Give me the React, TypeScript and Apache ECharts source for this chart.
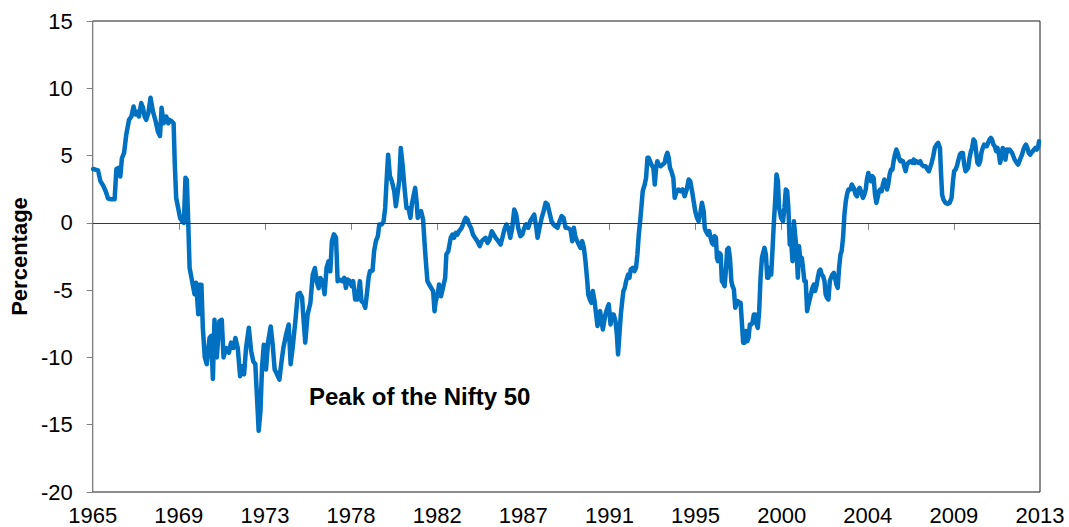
import React, { useEffect, useRef } from "react";
import * as echarts from "echarts";

// x-axis tick labels (evenly spaced across the axis, as in the source chart)
const tickLabels = ["1965", "1969", "1973", "1978", "1982", "1987", "1991", "1995", "2000", "2004", "2009", "2013"];
const xStart = 1965;
const xEnd = 2013;

// y-axis range
const yMin = -20;
const yMax = 15;
const yStep = 5;

// Series: [year, percentage] in segments
const seg1965: [number, number][] = [
  [1965.02, 4.0], [1965.27, 3.9], [1965.39, 3.1], [1965.52, 2.8], [1965.66, 2.35], [1965.78, 1.8],
  [1965.94, 1.75], [1966.11, 1.75], [1966.2, 4.0], [1966.33, 4.1], [1966.4, 3.45], [1966.48, 4.8],
  [1966.59, 5.2], [1966.7, 6.55], [1966.84, 7.65], [1966.96, 7.9], [1967.07, 8.65], [1967.17, 8.05],
  [1967.28, 8.25], [1967.34, 7.9], [1967.46, 8.9], [1967.55, 8.55], [1967.63, 7.9], [1967.71, 7.65],
  [1967.82, 8.15], [1967.93, 9.3], [1968.05, 8.3], [1968.19, 7.55], [1968.3, 6.8], [1968.41, 6.45],
  [1968.49, 8.55], [1968.59, 7.4], [1968.73, 7.9], [1968.83, 7.4], [1968.89, 7.65], [1969.0, 7.55],
  [1969.1, 7.4], [1969.16, 4.35], [1969.23, 1.85], [1969.33, 1.1], [1969.43, 0.35], [1969.54, 0.1],
  [1969.62, 0.0], [1969.7, 3.35], [1969.77, 3.2], [1969.84, 0.1], [1969.91, -3.35], [1970.04, -4.35],
  [1970.16, -5.3], [1970.24, -4.45], [1970.35, -6.8], [1970.41, -4.6], [1970.51, -4.6], [1970.58, -7.8],
  [1970.68, -10.0], [1970.78, -10.5], [1970.92, -8.55], [1971.0, -8.4], [1971.09, -11.6],
];

const seg1971: [number, number][] = [
  [1971.17, -7.2], [1971.29, -10.0], [1971.42, -7.3], [1971.54, -7.2], [1971.63, -10.0], [1971.76, -9.3],
  [1971.9, -9.65], [1972.01, -8.9], [1972.13, -9.3], [1972.23, -8.55], [1972.35, -9.3], [1972.47, -11.4],
  [1972.55, -10.65], [1972.67, -11.25], [1972.77, -9.3], [1972.91, -7.8], [1973.03, -9.55], [1973.14, -10.3],
  [1973.24, -10.5], [1973.31, -12.5], [1973.41, -15.45], [1973.5, -14.0], [1973.58, -10.75], [1973.67, -9.05],
  [1973.78, -10.9], [1973.89, -8.8], [1974.02, -7.7], [1974.12, -9.05], [1974.22, -10.9], [1974.34, -11.25],
  [1974.46, -11.65], [1974.56, -10.4], [1974.66, -9.3], [1974.8, -8.3], [1974.93, -7.55], [1975.03, -10.5],
  [1975.13, -9.3], [1975.27, -7.3], [1975.39, -5.3], [1975.5, -5.2], [1975.61, -5.55], [1975.69, -7.3],
  [1975.77, -8.9], [1975.89, -6.8], [1976.03, -5.95], [1976.15, -3.85], [1976.26, -3.35], [1976.35, -4.35],
  [1976.45, -4.85], [1976.53, -4.1], [1976.65, -4.35], [1976.75, -5.3], [1976.85, -3.35], [1976.95, -2.85],
  [1977.04, -3.6], [1977.12, -1.35], [1977.22, -0.85],
];

const seg1977: [number, number][] = [
  [1977.33, -1.11], [1977.41, -4.33], [1977.49, -4.21], [1977.63, -4.33], [1977.75, -4.08], [1977.83, -4.83],
  [1977.92, -4.21], [1978.03, -4.33], [1978.12, -4.7], [1978.2, -4.33], [1978.3, -5.69], [1978.42, -5.69],
  [1978.54, -4.33], [1978.62, -5.82], [1978.72, -5.94], [1978.81, -6.31], [1978.89, -5.32], [1978.98, -4.08],
  [1979.05, -3.59], [1979.18, -3.54], [1979.26, -2.1], [1979.35, -1.36], [1979.45, -0.99], [1979.52, -0.12],
  [1979.65, -0.12], [1979.74, 0.12], [1979.82, 1.11], [1979.89, 3.09], [1979.97, 5.07], [1980.06, 3.47],
  [1980.16, 3.09], [1980.28, 2.35], [1980.36, 1.24], [1980.44, 2.1], [1980.53, 3.09], [1980.61, 5.57],
  [1980.7, 4.33], [1980.8, 2.6], [1980.9, 1.11], [1981.0, 1.11], [1981.1, 0.37], [1981.17, 1.36],
  [1981.27, 2.1], [1981.34, 2.6], [1981.41, 1.61], [1981.47, 0.37], [1981.54, 0.62], [1981.64, 0.87],
  [1981.74, 0.25], [1981.81, -1.36], [1981.88, -2.85], [1981.96, -4.33], [1982.05, -4.58], [1982.15, -4.83],
  [1982.25, -5.07], [1982.32, -6.56], [1982.38, -5.82], [1982.48, -5.32], [1982.55, -4.58], [1982.65, -5.45],
  [1982.75, -4.83], [1982.86, -4.08], [1982.92, -2.35], [1983.02, -2.1],
];

const seg1983: [number, number][] = [
  [1983.14, -1.11], [1983.23, -0.87], [1983.31, -1.11], [1983.4, -0.74], [1983.48, -0.87], [1983.56, -0.62],
  [1983.7, -0.37], [1983.82, 0.12], [1983.9, 0.37], [1983.99, 0.25], [1984.07, -0.12], [1984.17, -0.37],
  [1984.27, -0.87], [1984.37, -1.11], [1984.49, -1.36], [1984.61, -1.73], [1984.71, -1.36], [1984.81, -1.24],
  [1984.91, -1.11], [1985.01, -1.49], [1985.11, -1.24], [1985.22, -0.62], [1985.32, -0.87], [1985.42, -1.11],
  [1985.55, -1.36], [1985.67, -1.61], [1985.76, -1.11], [1985.86, -0.5], [1985.96, -0.12], [1986.06, -0.37],
  [1986.16, -1.11], [1986.26, -0.37], [1986.36, 0.99], [1986.46, 0.62], [1986.56, -0.37], [1986.67, -0.99],
  [1986.77, -0.87], [1986.87, -0.37], [1986.97, -0.12], [1987.07, -0.37], [1987.17, 0.12], [1987.27, 0.37],
  [1987.37, 0.62], [1987.48, -0.37], [1987.54, -1.11], [1987.64, -0.37], [1987.75, 0.37], [1987.85, 0.87],
  [1987.95, 1.49], [1988.05, 1.36], [1988.15, 0.74], [1988.25, 0.12], [1988.35, -0.12], [1988.45, -0.25],
  [1988.55, -0.37], [1988.66, 0.12], [1988.76, 0.5], [1988.86, 0.37], [1988.96, -0.37], [1989.06, -0.37],
];

const seg1989: [number, number][] = [
  [1989.21, -0.5], [1989.3, -1.36], [1989.38, -0.37], [1989.47, -1.11], [1989.55, -1.36], [1989.63, -1.61],
  [1989.72, -1.86], [1989.8, -1.36], [1989.89, -1.86], [1989.97, -2.85], [1990.06, -4.33], [1990.11, -5.32],
  [1990.19, -5.69], [1990.27, -5.94], [1990.34, -5.07], [1990.43, -5.82], [1990.51, -6.81], [1990.58, -7.67],
  [1990.65, -6.81], [1990.71, -6.56], [1990.78, -7.3], [1990.85, -7.92], [1990.92, -7.3], [1990.98, -6.81],
  [1991.08, -6.31], [1991.15, -6.06], [1991.24, -7.55], [1991.32, -6.81], [1991.4, -6.81], [1991.49, -7.3],
  [1991.56, -8.29], [1991.62, -9.78], [1991.69, -8.29], [1991.76, -6.81], [1991.83, -5.82], [1991.89, -5.07],
  [1991.96, -4.83], [1992.03, -4.33], [1992.13, -3.84], [1992.2, -4.08], [1992.26, -3.47], [1992.37, -3.34],
  [1992.45, -3.59], [1992.53, -3.34], [1992.6, -2.35], [1992.67, -0.87], [1992.74, 0.12], [1992.8, 1.11],
  [1992.87, 2.35], [1992.97, 2.85], [1993.04, 3.34], [1993.11, 4.83], [1993.17, 4.83], [1993.24, 4.58],
  [1993.31, 4.33], [1993.41, 4.08], [1993.48, 2.85], [1993.55, 4.08], [1993.61, 4.58], [1993.68, 4.33],
  [1993.78, 4.21], [1993.88, 4.33], [1993.98, 4.46], [1994.05, 4.95], [1994.12, 5.2], [1994.19, 4.83],
  [1994.25, 4.08], [1994.32, 3.84], [1994.42, 3.34], [1994.49, 1.86], [1994.59, 2.35], [1994.69, 2.48],
  [1994.79, 2.35], [1994.89, 2.48], [1994.99, 1.98], [1995.1, 2.48],
];

const seg1995: [number, number][] = [
  [1995.2, 3.22], [1995.28, 3.09], [1995.37, 2.35], [1995.45, 1.61], [1995.53, 0.87], [1995.62, 0.37],
  [1995.7, 0.12], [1995.79, 0.74], [1995.87, 1.49], [1995.96, 0.87], [1996.01, -0.37], [1996.07, -0.62],
  [1996.17, -0.87], [1996.24, -0.62], [1996.31, -1.11], [1996.38, -1.49], [1996.44, -1.61], [1996.51, -0.99],
  [1996.58, -1.11], [1996.63, -2.6], [1996.68, -2.85], [1996.75, -2.23], [1996.82, -2.35], [1996.88, -4.33],
  [1996.95, -4.46], [1997.02, -4.7], [1997.08, -3.59], [1997.15, -1.98], [1997.22, -1.86], [1997.29, -2.6],
  [1997.36, -4.33], [1997.42, -4.7], [1997.49, -4.95], [1997.56, -6.31], [1997.62, -6.06], [1997.69, -5.82],
  [1997.76, -5.94], [1997.83, -5.94], [1997.89, -7.3], [1997.96, -8.91], [1998.03, -8.91], [1998.1, -8.04],
  [1998.17, -8.79], [1998.23, -8.54], [1998.3, -7.55], [1998.37, -7.55], [1998.43, -7.43], [1998.5, -6.81],
  [1998.57, -6.81], [1998.64, -7.55], [1998.7, -7.8], [1998.77, -6.56], [1998.84, -4.08], [1998.91, -2.6],
  [1998.97, -2.23], [1999.04, -1.86], [1999.11, -2.35], [1999.18, -4.08], [1999.24, -4.08], [1999.31, -3.34],
  [1999.38, -3.84], [1999.45, -1.86], [1999.51, -0.12], [1999.58, 1.61], [1999.65, 3.59], [1999.72, 3.09],
  [1999.78, 1.11], [1999.88, 0.37], [1999.98, 0.12], [2000.05, 1.11], [2000.12, 2.48], [2000.19, 2.35],
  [2000.25, 1.11], [2000.32, -1.61], [2000.39, -1.36], [2000.46, -2.85], [2000.53, 0.12], [2000.59, -0.87],
  [2000.66, -1.86], [2000.73, -4.08], [2000.79, -1.73], [2000.86, -2.85], [2000.93, -2.6], [2000.99, -3.34],
  [2001.06, -4.33], [2001.13, -4.33], [2001.2, -6.56], [2001.27, -6.06],
];

const seg2001: [number, number][] = [
  [2001.47, -4.83], [2001.54, -4.58], [2001.6, -5.07], [2001.67, -4.7], [2001.74, -4.08], [2001.81, -3.59],
  [2001.87, -3.47], [2001.94, -3.84], [2002.01, -3.96], [2002.08, -4.33], [2002.14, -5.32], [2002.21, -5.57],
  [2002.28, -5.69], [2002.35, -4.33], [2002.41, -4.08], [2002.48, -3.84], [2002.55, -3.71], [2002.62, -4.08],
  [2002.68, -4.58], [2002.75, -4.83], [2002.82, -3.34], [2002.89, -2.35], [2002.95, -2.1], [2003.02, -1.11],
  [2003.09, 0.62], [2003.16, 1.61], [2003.22, 2.1], [2003.29, 2.48], [2003.39, 2.48], [2003.46, 2.85],
  [2003.56, 2.6], [2003.66, 2.1], [2003.73, 1.98], [2003.8, 2.48], [2003.86, 2.6], [2003.93, 2.35],
  [2004.03, 1.86], [2004.1, 2.1], [2004.17, 2.48], [2004.23, 3.22], [2004.3, 3.71], [2004.37, 3.34],
  [2004.44, 3.09], [2004.5, 3.47], [2004.57, 3.34], [2004.64, 2.1], [2004.71, 1.49], [2004.77, 1.86],
  [2004.84, 2.35], [2004.91, 2.48], [2004.98, 2.35], [2005.04, 2.85], [2005.11, 3.22], [2005.18, 3.09],
  [2005.25, 2.48], [2005.31, 2.85], [2005.38, 3.59], [2005.45, 3.96], [2005.52, 3.96], [2005.58, 4.58],
  [2005.65, 5.07], [2005.72, 5.45], [2005.79, 5.2], [2005.85, 4.83], [2005.92, 4.58], [2005.99, 4.63],
  [2006.06, 4.58], [2006.12, 4.21], [2006.19, 3.84], [2006.26, 4.33], [2006.33, 4.46], [2006.43, 4.58],
  [2006.53, 4.46], [2006.6, 4.7], [2006.66, 4.46], [2006.73, 4.58], [2006.83, 4.46], [2006.93, 4.58],
  [2007.0, 4.33], [2007.1, 4.21], [2007.2, 4.21], [2007.3, 3.96], [2007.37, 3.84],
];

const seg2007: [number, number][] = [
  [2007.51, 4.46], [2007.59, 4.95], [2007.67, 5.57], [2007.76, 5.82], [2007.84, 5.94], [2007.93, 5.57],
  [2007.98, 3.84], [2008.04, 2.1], [2008.11, 1.73], [2008.21, 1.49], [2008.31, 1.41], [2008.42, 1.49],
  [2008.52, 1.86], [2008.59, 3.09], [2008.65, 3.84], [2008.72, 3.96], [2008.79, 4.21], [2008.85, 4.58],
  [2008.94, 5.07], [2009.02, 5.2], [2009.09, 5.2], [2009.16, 4.33], [2009.23, 3.84], [2009.29, 3.96],
  [2009.36, 4.08], [2009.43, 4.83], [2009.5, 5.32], [2009.56, 5.57], [2009.63, 6.19], [2009.7, 6.06],
  [2009.77, 5.2], [2009.83, 4.46], [2009.9, 4.33], [2009.97, 4.58], [2010.03, 5.2], [2010.1, 5.57],
  [2010.17, 5.82], [2010.24, 5.69], [2010.3, 5.69], [2010.37, 5.94], [2010.44, 6.19], [2010.51, 6.31],
  [2010.57, 6.19], [2010.64, 5.82], [2010.71, 5.69], [2010.78, 5.32], [2010.84, 5.57], [2010.91, 5.2],
  [2010.98, 4.46], [2011.05, 4.95], [2011.11, 5.57], [2011.18, 5.32], [2011.25, 4.7], [2011.32, 5.45],
  [2011.38, 5.32], [2011.45, 5.45], [2011.52, 5.32], [2011.59, 5.2], [2011.65, 4.95], [2011.72, 4.7],
  [2011.82, 4.46], [2011.89, 4.33], [2011.96, 4.58], [2012.02, 4.83], [2012.09, 5.07], [2012.16, 5.45],
  [2012.23, 5.69], [2012.29, 5.82], [2012.36, 5.57], [2012.43, 5.2], [2012.5, 5.07], [2012.56, 5.2],
  [2012.63, 5.32], [2012.7, 5.45], [2012.77, 5.57], [2012.83, 5.45], [2012.9, 5.57], [2012.95, 6.06],
];

const seriesName = "Percentage";
const annotationText = "Peak of the Nifty 50";

export default function App() {
  const ref = useRef<HTMLDivElement>(null);

  useEffect(() => {
    if (!ref.current) return;
    const chart = echarts.init(ref.current, undefined, { renderer: "svg" });
    const data = [...seg1965, ...seg1971, ...seg1977, ...seg1983, ...seg1989, ...seg1995, ...seg2001, ...seg2007];
    const step = (xEnd - xStart) / (tickLabels.length - 1);
    const tickPositions = tickLabels.map((_, i) => xStart + i * step);
    const font = "'Liberation Sans', Arial, Helvetica, sans-serif";

    chart.setOption({
      animation: false,
      backgroundColor: "#ffffff",
      grid: {
        left: 91,
        right: 29,
        top: 21,
        bottom: 35,
        show: true,
        borderColor: "#1a1a1a",
        borderWidth: 1,
        backgroundColor: "transparent",
      },
      xAxis: {
        type: "value",
        min: xStart,
        max: xEnd,
        splitLine: { show: false },
        axisLine: { show: true, lineStyle: { color: "#000000", width: 1 } },
        axisTick: {
          show: true,
          inside: false,
          length: 7,
          customValues: tickPositions,
          lineStyle: { color: "#808080", width: 1 },
        },
        axisLabel: {
          customValues: tickPositions,
          margin: 12,
          fontSize: 22,
          fontFamily: font,
          color: "#000000",
          hideOverlap: false,
          formatter: (v: number) => {
            const i = Math.round((v - xStart) / step);
            return tickLabels[i] ?? "";
          },
        },
      },
      yAxis: {
        type: "value",
        min: yMin,
        max: yMax,
        interval: yStep,
        name: seriesName,
        nameLocation: "middle",
        nameRotate: 90,
        nameGap: 62,
        nameTextStyle: { fontSize: 22, fontWeight: "bold", fontFamily: font, color: "#000000" },
        splitLine: { show: false },
        axisLine: { show: true, lineStyle: { color: "#808080", width: 1 } },
        axisTick: { show: true, inside: false, length: 6, lineStyle: { color: "#808080", width: 1 } },
        axisLabel: { margin: 20, fontSize: 22, fontFamily: font, color: "#000000" },
      },
      series: [
        {
          name: seriesName,
          type: "line",
          data,
          showSymbol: false,
          symbol: "none",
          smooth: false,
          lineStyle: { color: "#0070C0", width: 4.5, join: "round", cap: "round" },
          markLine: {
            silent: true,
            symbol: ["none", "none"],
            label: { show: false },
            lineStyle: { color: "#3a3a3a", width: 1, type: "solid" },
            data: [{ yAxis: 0 }],
          },
        },
      ],
      graphic: [
        {
          type: "text",
          left: 309,
          top: 384,
          style: {
            text: annotationText,
            fontSize: 24,
            fontWeight: "bold",
            fontFamily: font,
            fill: "#000000",
          },
        },
      ],
    });

    return () => chart.dispose();
  }, []);

  return (
    <div
      ref={ref}
      style={{ position: "fixed", left: 0, top: 0, width: 1069, height: 527, background: "#fff" }}
    />
  );
}
